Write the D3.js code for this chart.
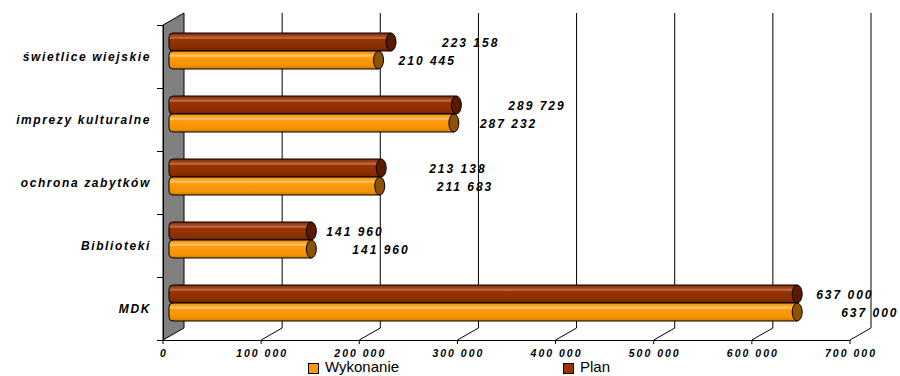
<!doctype html><html><head><meta charset="utf-8"></head><body style="margin:0;background:#fff">
<script src="https://d3js.org/d3.v7.min.js"></script>
<style>
  svg text { font-family: "Liberation Sans", Arial, sans-serif; fill: #000; }
  .cat { font-size: 12px; font-weight: bold; font-style: italic; letter-spacing: 1.6px; }
  .tick { font-size: 10.5px; font-weight: bold; font-style: italic; letter-spacing: 2px; }
  .val { font-size: 12px; font-weight: bold; font-style: italic; letter-spacing: 2px; }
  .leg { font-size: 15px; }
</style>
<script>
  // data
  var categories = ["świetlice wiejskie", "imprezy kulturalne", "ochrona zabytków", "Biblioteki", "MDK"];
  var plan = [223158, 289729, 213138, 141960, 637000];
  var wykonanie = [210445, 287232, 211683, 141960, 637000];
  var tickValues = [0, 100000, 200000, 300000, 400000, 500000, 600000, 700000];

  // where Excel dropped the value labels (gap after the bar end)
  var planGap = [46, 47, 43, 10, 14];
  var wykGap = [15, 21, 52, 36, 39];

  var W = 900, H = 376;
  var dx = 21, dy = -12;   // depth of the 3d box

  var svg = d3.select("body").append("svg").attr("width", W).attr("height", H);

  var x = d3.scaleLinear().domain([0, 700000]).range([163, 850]);
  var y = d3.scaleBand().domain(categories).range([25, 340]);
  var sub = d3.scaleBand().domain(["plan", "wyk"]).range([8, 44]);

  var fmt = function(v) { return d3.format(",")(v).replace(/,/g, " "); };

  // gradients for the cylinders
  var defs = svg.append("defs");
  function grad(id, stops) {
    var g = defs.append("linearGradient").attr("id", id).attr("x1", 0).attr("y1", 0).attr("x2", 0).attr("y2", 1);
    stops.forEach(function(s) { g.append("stop").attr("offset", s[0]).attr("stop-color", s[1]); });
  }
  grad("gPlan", [[0, "#7a2800"], [0.18, "#a44a22"], [0.28, "#c8704e"], [0.36, "#973400"], [0.8, "#8a2e00"], [1, "#6e2200"]]);
  grad("gWyk", [[0, "#e88a00"], [0.18, "#ffaa30"], [0.28, "#ffc878"], [0.36, "#ff9c10"], [0.8, "#f59200"], [1, "#d27a00"]]);

  // left wall
  svg.append("path")
    .attr("d", "M" + x(0) + "," + 25 + "L" + (x(0) + dx) + "," + (25 + dy) +
      "L" + (x(0) + dx) + "," + (340 + dy) + "L" + x(0) + "," + 340 + "Z")
    .attr("fill", "#808080").attr("stroke", "#000").attr("stroke-width", 1);

  // back gridlines + floor diagonals
  tickValues.forEach(function(t, i) {
    if (i == 0) return;
    var last = i == tickValues.length - 1;
    svg.append("line")
      .attr("x1", x(t) + dx).attr("x2", x(t) + dx)
      .attr("y1", 25 + dy).attr("y2", 340 + dy)
      .attr("stroke", last ? "#808080" : "#000").attr("stroke-width", last ? 2 : 1);
    svg.append("line")
      .attr("x1", x(t)).attr("y1", 340).attr("x2", x(t) + dx).attr("y2", 340 + dy)
      .attr("stroke", "#000");
  });

  // front axes
  svg.append("line").attr("x1", x(0)).attr("x2", x(700000)).attr("y1", 340.5).attr("y2", 340.5).attr("stroke", "#000");
  svg.append("line").attr("x1", x(0) + 0.5).attr("x2", x(0) + 0.5).attr("y1", 25).attr("y2", 340).attr("stroke", "#000");

  tickValues.forEach(function(t) {
    svg.append("line").attr("x1", x(t)).attr("x2", x(t)).attr("y1", 340).attr("y2", 344).attr("stroke", "#000");
    svg.append("text").attr("class", "tick").attr("x", x(t) + 1).attr("y", 357)
      .attr("text-anchor", "middle").text(fmt(t));
  });

  categories.forEach(function(c, i) {
    svg.append("line").attr("x1", x(0) - 6).attr("x2", x(0)).attr("y1", y(c) + 0.5).attr("y2", y(c) + 0.5).attr("stroke", "#000");
    svg.append("text").attr("class", "cat").attr("x", 151).attr("y", y(c) + y.bandwidth() / 2 + 4)
      .attr("text-anchor", "end").text(c);
  });
  svg.append("line").attr("x1", x(0) - 6).attr("x2", x(0)).attr("y1", 340.5).attr("y2", 340.5).attr("stroke", "#000");

  // cylinders
  function cylinder(v, top, fill, cap) {
    var h = sub.bandwidth();
    var x0 = x(0) + 6, x1 = x(v) + 9, r = 4, cr = 5;
    var g = svg.append("g");
    g.append("path")
      .attr("d", "M" + x1 + "," + top + "L" + (x0 + r) + "," + top +
        "Q" + x0 + "," + top + " " + x0 + "," + (top + r) +
        "L" + x0 + "," + (top + h - r) +
        "Q" + x0 + "," + (top + h) + " " + (x0 + r) + "," + (top + h) +
        "L" + x1 + "," + (top + h) + "Z")
      .attr("fill", fill).attr("stroke", "#000").attr("stroke-width", 1);
    g.append("ellipse").attr("cx", x1).attr("cy", top + h / 2).attr("rx", cr).attr("ry", h / 2)
      .attr("fill", cap).attr("stroke", "#000").attr("stroke-width", 1);
    return x1 + cr;
  }

  categories.forEach(function(c, i) {
    var tp = y(c) + sub("plan"), tw = y(c) + sub("wyk");
    var ep = cylinder(plan[i], tp, "url(#gPlan)", "#5a1a00");
    var ew = cylinder(wykonanie[i], tw, "url(#gWyk)", "#8c5200");
    svg.append("text").attr("class", "val").attr("x", ep + planGap[i])
      .attr("y", tp + sub.bandwidth() / 2 + 5).text(fmt(plan[i]));
    svg.append("text").attr("class", "val").attr("x", ew + wykGap[i])
      .attr("y", tw + sub.bandwidth() / 2 + 5).text(fmt(wykonanie[i]));
  });

  // legend
  var legend = [["Wykonanie", "#ff9900", 308], ["Plan", "#993300", 563]];
  legend.forEach(function(l) {
    svg.append("rect").attr("x", l[2] + 0.5).attr("y", 363.5).attr("width", 10).attr("height", 10)
      .attr("fill", l[1]).attr("stroke", "#000");
    svg.append("text").attr("class", "leg").attr("x", l[2] + 17).attr("y", 372).text(l[0]);
  });
</script></body></html>
